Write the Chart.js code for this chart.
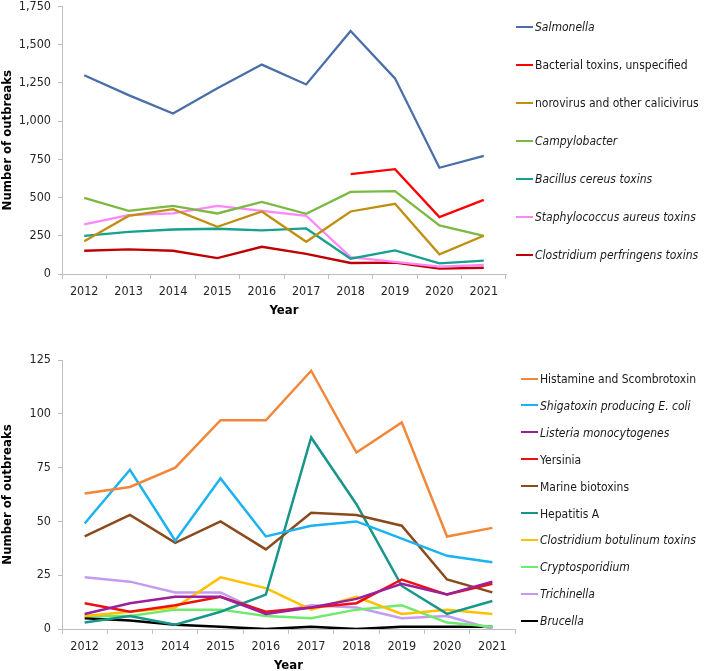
<!DOCTYPE html>
<html>
<head>
<meta charset="utf-8">
<script src="https://cdn.jsdelivr.net/npm/chart.js@4.4.0/dist/chart.umd.min.js"></script>
<style>
  body { margin: 0; background: #fff; width: 709px; height: 671px; overflow: hidden; position: relative; }
  .box { position: absolute; left: 0; width: 709px; }
  .leg { position: absolute; font-family: 'DejaVu Sans Condensed', 'DejaVu Sans', sans-serif; font-size: 12px; color: #1a1a1a; white-space: nowrap; }
  .leg span.ln { display: inline-block; width: 17px; height: 0; border-top: 2.6px solid; vertical-align: middle; margin-right: 2px; }
  .leg span.tx { vertical-align: middle; }
</style>
</head>
<body>
<div class="box" style="top:-8px;height:328px"><canvas id="chartTop"></canvas></div>
<div class="box" style="top:320px;height:353px"><canvas id="chartBottom"></canvas></div>
<div id="legTop"></div>
<div id="legBottom"></div>
<script>
var years = ['2012','2013','2014','2015','2016','2017','2018','2019','2020','2021'];

// top chart
var topNames = ['Salmonella','Bacterial toxins, unspecified','norovirus and other calicivirus','Campylobacter','Bacillus cereus toxins','Staphylococcus aureus toxins','Clostridium perfringens toxins'];
var topItalic = [true,false,false,true,true,true,true];
var topColors = ['#4a6ea8','#ff0000','#bf8f10','#7cb942','#16a08e','#ff86ff','#c00000'];
var salmonella = [1300,1170,1050,1215,1370,1240,1590,1280,695,773];
var bacterialToxins = [null,null,null,null,null,null,653,686,372,485];
var norovirus = [215,380,424,309,409,211,409,459,129,250];
var campylobacter = [498,413,446,396,472,394,537,542,318,250];
var bacillusCereus = [250,276,291,296,285,298,100,155,70,87];
var staphAureus = [324,385,396,446,413,381,111,80,48,59];
var clostPerfringens = [152,161,152,104,178,131,72,74,35,41];

// bottom chart
var botNames = ['Histamine and Scombrotoxin','Shigatoxin producing E. coli','Listeria monocytogenes','Yersinia','Marine biotoxins','Hepatitis A','Clostridium botulinum toxins','Cryptosporidium','Trichinella','Brucella'];
var botItalic = [false,true,true,false,false,false,true,true,true,true];
var botColors = ['#f0873a','#1ab2ef','#9c1f9c','#ee1010','#8b4a1c','#17968a','#ffc000','#6eea6e','#c39cf2','#000000'];
var histamine = [63,66,75,97,97,120,82,96,43,47];
var shigatoxin = [49,74,41,70,43,48,50,42,34,31];
var listeria = [7,12,15,15,7,10,14,21,16,22];
var yersinia = [12,8,11,15,8,10,12,23,16,21];
var marineBiotoxins = [43,53,40,50,37,54,53,48,23,17];
var hepatitisA = [3,6,2,8,16,89,58,20,7,13];
var clostBotulinum = [6,8,10,24,19,9,15,7,9,7];
var cryptosporidium = [6,6,9,9,6,5,9,11,3,1];
var trichinella = [24,22,17,17,7,11,10,5,6,0];
var brucella = [5,4,2,1,0,1,0,1,1,1];

var FONT = "'DejaVu Sans Condensed', 'DejaVu Sans', sans-serif";

function makeChart(id, names, colors, values, ymax, ystep, lineW, padTop, padRight, xHeight, titlePad){
    var ds = [];
    for (var i = 0; i < names.length; i++){
        ds.push({
            label: names[i],
            data: values[i],
            borderColor: colors[i],
            backgroundColor: colors[i],
            borderWidth: lineW,
            pointRadius: 0,
            tension: 0,
            spanGaps: false
        });
    }
    return new Chart(document.getElementById(id).getContext('2d'), {
        type: 'line',
        data: { labels: years, datasets: ds },
        options: {
            responsive: true,
            maintainAspectRatio: false,
            animation: false,
            layout: { padding: { top: padTop, right: padRight, left: 0, bottom: 0 } },
            plugins: { legend: { display: false }, tooltip: { enabled: false } },
            scales: {
                x: {
                    offset: true,
                    grid: { offset: true, drawOnChartArea: false, drawTicks: true, tickLength: 5, color: '#bfbfbf' },
                    border: { color: '#bfbfbf', width: 1 },
                    ticks: { color: '#262626', font: { family: FONT, size: 12.5 }, padding: 5 },
                    title: { display: true, text: 'Year', color: '#000', font: { family: FONT, size: 13, weight: 'bold' }, padding: { top: 0, bottom: titlePad } },
                    afterFit: function(s){ s.height = xHeight; }
                },
                y: {
                    min: 0, max: ymax,
                    grid: { drawOnChartArea: false, drawTicks: true, tickLength: 4, color: '#bfbfbf' },
                    border: { color: '#bfbfbf', width: 1 },
                    ticks: { stepSize: ystep, color: '#262626', font: { family: FONT, size: 12.5 }, padding: 7 },
                    title: { display: true, text: 'Number of outbreaks', color: '#000', font: { family: FONT, size: 13, weight: 'bold' }, padding: { top: 0, bottom: 0 } },
                    afterFit: function(s){ s.width = 62; }
                }
            }
        }
    });
}

function makeLegend(id, names, italic, colors, x, y0, gap){
    var el = document.getElementById(id);
    for (var i = 0; i < names.length; i++){
        var d = document.createElement('div');
        d.className = 'leg';
        d.style.left = x + 'px';
        d.style.top = (y0 + i * gap - 8) + 'px';
        d.innerHTML = '<span class="ln" style="border-color:' + colors[i] + '"></span><span class="tx" style="font-style:' + (italic[i] ? 'italic' : 'normal') + '">' + names[i] + '</span>';
        el.appendChild(d);
    }
}

makeChart('chartTop', topNames, topColors,
    [salmonella, bacterialToxins, norovirus, campylobacter, bacillusCereus, staphAureus, clostPerfringens],
    1750, 250, 2.3, 0, 203, 46, 2);
makeChart('chartBottom', botNames, botColors,
    [histamine, shigatoxin, listeria, yersinia, marineBiotoxins, hepatitisA, clostBotulinum, cryptosporidium, trichinella, brucella],
    125, 25, 2.5, 40, 194, 44, 0);

makeLegend('legTop', topNames, topItalic, topColors, 516, 27, 38);
makeLegend('legBottom', botNames, botItalic, botColors, 521, 379, 26.9);
</script>
</body>
</html>
